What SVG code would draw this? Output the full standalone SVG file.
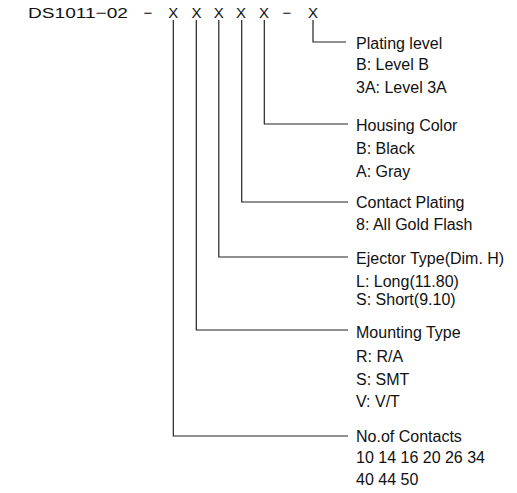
<svg xmlns="http://www.w3.org/2000/svg" width="517" height="493" viewBox="0 0 517 493">
<style>
.hdr{font-family:"Liberation Sans",Arial,sans-serif;font-size:15px;fill:#111;text-anchor:middle}
.lbl{font-family:"Liberation Sans",Arial,sans-serif;font-size:16px;fill:#111}
.ln{fill:none;stroke:#222;stroke-width:1.2}
</style>
<rect width="517" height="493" fill="#fff"/>
<g id="header">
<text class="hdr" x="78" y="18" textLength="100" lengthAdjust="spacingAndGlyphs">DS1011−02</text>
<text class="hdr" x="148" y="18">−</text>
<text class="hdr" x="173.3" y="18">X</text>
<text class="hdr" x="196.5" y="18">X</text>
<text class="hdr" x="218.8" y="18">X</text>
<text class="hdr" x="241" y="18">X</text>
<text class="hdr" x="264" y="18">X</text>
<text class="hdr" x="287" y="18">−</text>
<text class="hdr" x="313" y="18">X</text>
</g>
<g id="connectors">
<polyline class="ln" points="313,20 313,42 346,42"/>
<polyline class="ln" points="264.3,20 264.3,124 348,124"/>
<polyline class="ln" points="241.7,20 241.7,202 348,202"/>
<polyline class="ln" points="218.8,20 218.8,257 348,257"/>
<polyline class="ln" points="196.3,20 196.3,330 348,330"/>
<polyline class="ln" points="173.3,20 173.3,436 348,436"/>
</g>
<g id="plating-level">
<text class="lbl" x="356" y="49">Plating level</text>
<text class="lbl" x="356" y="70">B: Level B</text>
<text class="lbl" x="356" y="93">3A: Level 3A</text>
</g>
<g id="housing-color">
<text class="lbl" x="356" y="131">Housing Color</text>
<text class="lbl" x="356" y="154">B: Black</text>
<text class="lbl" x="356" y="177">A: Gray</text>
</g>
<g id="contact-plating">
<text class="lbl" x="356" y="208">Contact Plating</text>
<text class="lbl" x="356" y="230">8: All Gold Flash</text>
</g>
<g id="ejector-type">
<text class="lbl" x="356" y="264">Ejector Type(Dim. H)</text>
<text class="lbl" x="356" y="286.5">L: Long(11.80)</text>
<text class="lbl" x="356" y="305">S: Short(9.10)</text>
</g>
<g id="mounting-type">
<text class="lbl" x="356" y="338">Mounting Type</text>
<text class="lbl" x="356" y="361.5">R: R/A</text>
<text class="lbl" x="356" y="385">S: SMT</text>
<text class="lbl" x="356" y="406.5">V: V/T</text>
</g>
<g id="no-of-contacts">
<text class="lbl" x="356" y="441.5">No.of Contacts</text>
<text class="lbl" x="356" y="463">10 14 16 20 26 34</text>
<text class="lbl" x="356" y="485">40 44 50</text>
</g>
</svg>
